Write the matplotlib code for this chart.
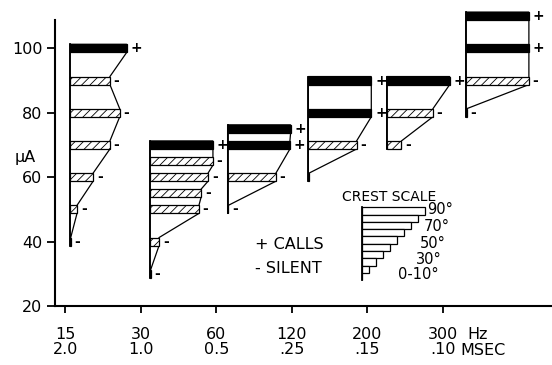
import matplotlib.pyplot as plt
from matplotlib.patches import Rectangle, Polygon

plt.rcParams['font.family'] = ['DejaVu Sans']
plt.rcParams['hatch.linewidth'] = 0.6

# Подписи оси X
freq_labels = ['15', '30', '60', '120', '200', '300']
dur_labels = ['2.0', '1.0', '0.5', '.25', '.15', '.10']

# Левый край каждой колонки (в единицах категорий)
col_x = [0.06, 1.12, 2.15, 3.22, 4.26, 5.31]

# Уровни тока (мкА), гребень (градусы), знак (+ звук, - молчит)
levels_15 = [100, 90, 80, 70, 60, 50, 40]
crest_15 = [81, 57, 71, 57, 33, 10, 1]
signs_15 = ['+', '-', '-', '-', '-', '-', '-']

levels_30 = [70, 65, 60, 55, 50, 40, 30]
crest_30 = [90, 90, 83, 73, 70, 13, 1]
signs_30 = ['+', '-', '-', '-', '-', '-', '-']

levels_60 = [75, 70, 60, 50]
crest_60 = [90, 89, 69, 1]
signs_60 = ['+', '+', '-', '-']

levels_120 = [90, 80, 70, 60]
crest_120 = [90, 90, 69, 1]
signs_120 = ['+', '+', '-', '']

levels_200 = [90, 80, 70]
crest_200 = [90, 66, 21]
signs_200 = ['+', '-', '-']

levels_300 = [110, 100, 90, 80]
crest_300 = [90, 90, 90, 1]
signs_300 = ['+', '+', '-', '-']

# Шкала гребня
scale_deg = [90, 80, 70, 60, 50, 40, 30, 20, 10, 0]
scale_labels = ['90°', '70°', '50°', '30°', '0-10°']

W, H = 552, 365
fig = plt.figure(figsize=(W / 100, H / 100), dpi=100)
ax = fig.add_axes([55 / W, 1 - 306 / H, 497 / W, 299.5 / H])
ax.set_xlim(-0.139, 6.452)
ax.set_ylim(20, 113)

# пиксели -> данные (для размещения надписей)
def px_x(px):
    return (px - 65.5) / 75.4

def px_y(py):
    return 100 - (py - 45) / 3.22

k = 0.7 / 75.4  # градус -> ширина
bh = 2.5

def draw_column(x0, levels, crest, signs):
    ws = [c * k for c in crest]
    pts = [(x0, levels[0] + bh / 2)]
    for lv, w in zip(levels, ws):
        pts.append((x0 + w, lv + bh / 2))
        pts.append((x0 + w, lv - bh / 2))
    pts.append((x0, levels[-1] - bh / 2))
    ax.add_patch(Polygon(pts, closed=True, facecolor='white', edgecolor='black', lw=0.9))
    for lv, w, s in zip(levels, ws, signs):
        if s == '+':
            ax.add_patch(Rectangle((x0, lv - bh / 2), w, bh, facecolor='black', edgecolor='black', lw=0.9))
        else:
            ax.add_patch(Rectangle((x0, lv - bh / 2), w, bh, facecolor='white', edgecolor='black',
                                   hatch='////', lw=0.9))
        if s:
            ax.text(x0 + w + 0.05, lv, s, ha='left', va='center', fontsize=10, fontweight='bold')
    ax.plot([x0, x0], [levels[0] + bh / 2, levels[-1] - bh / 2], color='black', lw=1.3)

draw_column(col_x[0], levels_15, crest_15, signs_15)
draw_column(col_x[1], levels_30, crest_30, signs_30)
draw_column(col_x[2], levels_60, crest_60, signs_60)
draw_column(col_x[3], levels_120, crest_120, signs_120)
draw_column(col_x[4], levels_200, crest_200, signs_200)
draw_column(col_x[5], levels_300, crest_300, signs_300)

# Шкала гребня
sx = px_x(362)
top = px_y(204)
step = 2.26
for i, d in enumerate(scale_deg):
    ax.add_patch(Rectangle((sx, top - (i + 1) * step), d * k, step, facecolor='white',
                           edgecolor='black', lw=0.9))
ax.plot([sx, sx], [top, top - len(scale_deg) * step], color='black', lw=1.3)
ax.text(px_x(389), px_y(193.5), 'CREST SCALE', ha='center', va='center', fontsize=10)
lab_px = [453, 450, 446, 442, 439]
lab_py = [206, 223, 240, 256, 271]
for t, lx, ly in zip(scale_labels, lab_px, lab_py):
    ax.text(px_x(lx), px_y(ly), t, ha='right', va='center', fontsize=10.5, linespacing=1)

ax.text(px_x(255), px_y(241.5), '+ CALLS', ha='left', va='center', fontsize=11.5)
ax.text(px_x(255), px_y(265), '- SILENT', ha='left', va='center', fontsize=11.5)

# Оси
for s in ['top', 'right']:
    ax.spines[s].set_visible(False)
ax.spines['left'].set_bounds(20, 108.7)
ax.spines['left'].set_linewidth(1.5)
ax.spines['bottom'].set_linewidth(1.5)
ax.set_yticks([20, 40, 60, 80, 100])
ax.set_yticklabels(['20', '40', '60', '80', '100'], fontsize=11.5)
ax.set_xticks(range(len(freq_labels)))
ax.set_xticklabels([f + '\n' + d for f, d in zip(freq_labels, dur_labels)], fontsize=11.5,
                   linespacing=1.0)
ax.tick_params(axis='y', direction='out', length=6, width=1.3, pad=3)
ax.tick_params(axis='x', direction='out', length=5, width=1.3, pad=10)
ax.text(px_x(25), 66, 'μA', ha='center', va='center', fontsize=11.5, clip_on=False)
ax.text(px_x(467), px_y(331), 'Hz', ha='left', va='center', fontsize=11.5, clip_on=False)
ax.text(px_x(460), px_y(347), 'MSEC', ha='left', va='center', fontsize=11.5, clip_on=False)

plt.savefig('out.png', dpi=100)
